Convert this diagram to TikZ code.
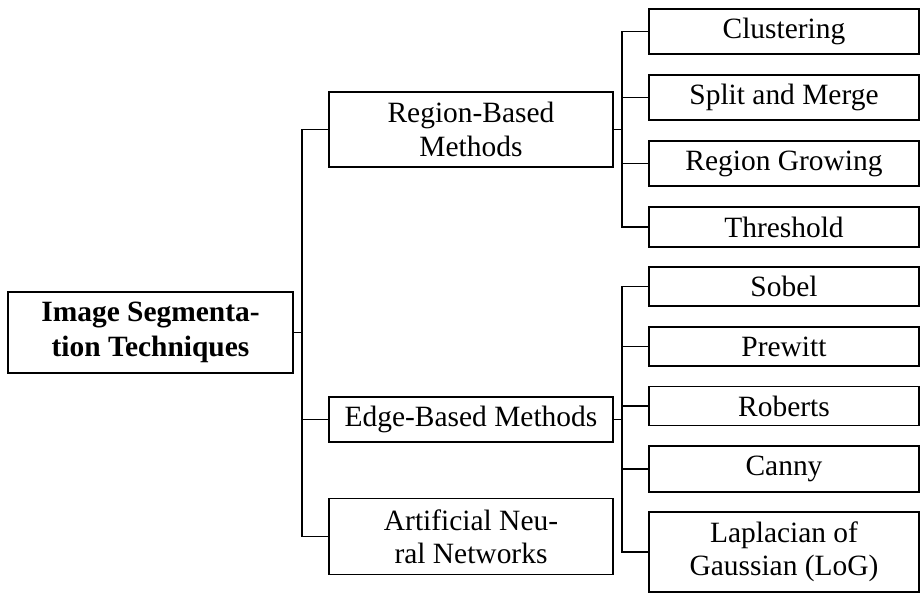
\documentclass[tikz,border=0pt]{standalone}
\usepackage{fontspec}
\setmainfont{Liberation Serif}
\begin{document}
\begin{tikzpicture}[x=0.36pt,y=-0.36pt,
  box/.style={draw, line width=0.45pt, rectangle, align=center, inner xsep=2pt, inner ysep=1pt, outer sep=0pt,
    font=\fontsize{10.6}{12}\selectfont},
  rootbox/.style={box, minimum width=102.6pt, minimum height=29.2pt, font=\fontsize{10.6}{12.6}\selectfont\bfseries},
  midbox/.style={box, minimum width=102.2pt},
  leafbox/.style={box, minimum width=97.2pt},
  conn/.style={draw, line width=0.45pt}]
\useasboundingbox (0,0) rectangle (921,593);
\coordinate (t1) at (302,0);
\coordinate (t2) at (622,0);
\node[rootbox] (root) at (150.5,332.5) {Image Segmenta-\\tion Techniques};
\node[midbox, minimum height=27pt] (region) at (471,129.5) {Region-Based\\Methods};
\node[midbox, minimum height=16.2pt] (edge) at (471,419.5) {Edge-Based Methods};
\node[midbox, minimum height=27.2pt] (ann) at (471,536.5) {Artificial Neu-\\ral Networks};
\node[leafbox, minimum height=16.2pt] (clus) at (784,31.5) {Clustering};
\node[leafbox, minimum height=16.2pt] (split) at (784,97.5) {Split and Merge};
\node[leafbox, minimum height=16.2pt] (rg) at (784,163.5) {Region Growing};
\node[leafbox, minimum height=14.4pt] (thr) at (784,227) {Threshold};
\node[leafbox, minimum height=14.1pt] (sob) at (784,286.5) {Sobel};
\node[leafbox, minimum height=14.1pt] (pre) at (784,346.5) {Prewitt};
\node[leafbox, minimum height=13.9pt] (rob) at (784,406) {Roberts};
\node[leafbox, minimum height=16.6pt] (can) at (784,469) {Canny};
\node[leafbox, minimum height=28.8pt] (log) at (784,552) {Laplacian of\\Gaussian (LoG)};
% root level
\draw[conn] (root.east) -- (root.east -| t1);
\draw[conn] (region.west) -- (region.west -| t1) -- (ann.west -| t1) -- (ann.west);
\draw[conn] (edge.west) -- (edge.west -| t1);
% region children
\draw[conn] (region.east) -- (region.east -| t2);
\draw[conn] (clus.west) -- (clus.west -| t2) -- (thr.west -| t2) -- (thr.west);
\draw[conn] (split.west) -- (split.west -| t2);
\draw[conn] (rg.west) -- (rg.west -| t2);
% edge children
\draw[conn] (edge.east) -- (edge.east -| t2);
\draw[conn] (sob.west) -- (sob.west -| t2) -- (log.west -| t2) -- (log.west);
\draw[conn] (pre.west) -- (pre.west -| t2);
\draw[conn] (rob.west) -- (rob.west -| t2);
\draw[conn] (can.west) -- (can.west -| t2);
\end{tikzpicture}
\end{document}
